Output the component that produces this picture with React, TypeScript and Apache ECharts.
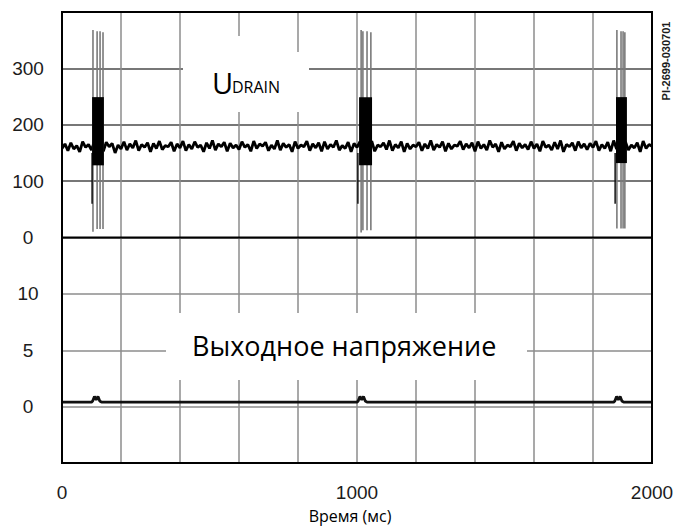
import React, { useEffect, useRef } from "react";
import * as echarts from "echarts";

// Time axis (ms)
const timeTicks = [0, 1000, 2000];

// U_DRAIN trace: samples every 10 ms, volts
const drainTimes: number[] = Array.from({ length: 201 }, (_, i) => i * 10);
const drainValues = [
  158, 166, 154, 168, 157, 163, 152, 170, 160, 165, 155, 171, 158, 164, 153, 169, 161, 167, 150, 164,
  157, 170, 155, 166, 159, 172, 154, 165, 160, 168, 152, 167, 158, 171, 156, 163, 161, 169, 153, 166,
  159, 171, 154, 165, 157, 170, 160, 164, 152, 168, 158, 172, 155, 166, 161, 169, 153, 167, 159, 164,
  156, 170, 160, 165, 153, 171, 158, 166, 162, 169, 154, 164, 157, 172, 155, 167, 160, 165, 152, 170,
  158, 164, 161, 171, 154, 166, 159, 168, 153, 170, 157, 165, 160, 172, 155, 163, 158, 169, 152, 167,
  160, 170, 155, 166, 158, 171, 153, 164, 161, 168, 156, 172, 154, 165, 159, 170, 152, 167, 157, 164,
  161, 169, 154, 166, 158, 172, 155, 165, 160, 170, 153, 167, 157, 164, 162, 171, 156, 166, 159, 168,
  153, 170, 158, 165, 155, 172, 160, 166, 152, 169, 157, 164, 161, 171, 154, 167, 159, 165, 156, 170,
  158, 166, 153, 171, 160, 164, 155, 169, 157, 172, 152, 165, 161, 168, 154, 170, 159, 166, 156, 167,
  160, 171, 154, 165, 158, 169, 153, 172, 157, 166, 161, 170, 155, 164, 159, 168, 152, 171, 158, 165,
  162,
];

// Switching bursts: [start ms, end ms, low V, high V]
const burstBlocks = [
  [102, 142, 128, 249],
  [1007, 1051, 128, 249],
  [1878, 1915, 132, 249],
];

// Ringing spikes inside each burst: [time ms, low V, high V]
const burstSpikes = [
  [105, 10, 368], [119, 15, 366], [129, 15, 366], [139, 15, 364],
  [1014, 9, 368], [1020, 13, 366], [1034, 13, 366], [1047, 13, 364],
  [1881, 16, 368], [1895, 16, 366], [1902, 16, 366], [1908, 16, 364],
];

// Dark undershoot at the start of each burst: [time ms, low V, high V]
const burstDips = [
  [102, 60, 150],
  [1003, 60, 150],
  [1875, 60, 150],
];

// Output voltage trace (V)
const outputTimes = [0, 100, 104, 110, 116, 122, 128, 134, 1000, 1004, 1010, 1016, 1022, 1028, 1034, 1870, 1874, 1880, 1886, 1892, 1898, 1904, 2000];
const outputValues = [0.4, 0.4, 0.5, 0.9, 0.6, 0.9, 0.5, 0.4, 0.4, 0.5, 0.9, 0.6, 0.9, 0.5, 0.4, 0.4, 0.5, 0.9, 0.6, 0.9, 0.5, 0.4, 0.4];

const LEFT = 62;
const TOP = 12;
const WIDTH = 590;
const PANEL_H = 225.5;
const DIGIT_FONT = "Liberation Sans, Arial, sans-serif";
const TEXT_FONT = "Open Sans, Noto Sans, sans-serif";

export default function App() {
  const ref = useRef<HTMLDivElement>(null);

  useEffect(() => {
    if (!ref.current) return;
    const chart = echarts.init(ref.current, undefined, { renderer: "svg" });

    const lineRender = (color: string, width: number) => (params: any, api: any) => {
      const t = api.value(0);
      const a = api.coord([t, api.value(1)]);
      const b = api.coord([t, api.value(2)]);
      return {
        type: "line",
        shape: { x1: a[0], y1: a[1], x2: b[0], y2: b[1] },
        style: { stroke: color, lineWidth: width },
      };
    };

    const valueLabel = {
      fontSize: 19,
      color: "#1c1c1c",
      fontFamily: DIGIT_FONT,
    };

    chart.setOption({
      animation: false,
      backgroundColor: "#ffffff",
      grid: [
        { left: LEFT, top: TOP, width: WIDTH, height: PANEL_H },
        { left: LEFT, top: TOP + PANEL_H, width: WIDTH, height: PANEL_H },
      ],
      xAxis: [
        {
          gridIndex: 0,
          type: "value",
          min: 0,
          max: 2000,
          interval: 200,
          axisLine: { show: false },
          axisTick: { show: false },
          axisLabel: { show: false },
          splitLine: { lineStyle: { color: "#8c8c8c", width: 1.5 } },
        },
        {
          gridIndex: 1,
          type: "value",
          min: 0,
          max: 2000,
          interval: 200,
          axisLine: { show: false },
          axisTick: { show: false },
          axisLabel: {
            ...valueLabel,
            margin: 20,
            formatter: (v: number) => (timeTicks.includes(v) ? String(v) : ""),
          },
          splitLine: { lineStyle: { color: "#8c8c8c", width: 1.5 } },
        },
      ],
      yAxis: [
        {
          gridIndex: 0,
          type: "value",
          min: 0,
          max: 400,
          interval: 100,
          axisLine: { show: false },
          axisTick: { show: false },
          axisLabel: {
            ...valueLabel,
            align: "center",
            margin: 34,
            formatter: (v: number) => (v < 400 ? String(v) : ""),
          },
          splitLine: { lineStyle: { color: "#4a4a4a", width: 1.5 } },
        },
        {
          gridIndex: 1,
          type: "value",
          min: -5,
          max: 15,
          interval: 5,
          axisLine: { show: false },
          axisTick: { show: false },
          axisLabel: {
            ...valueLabel,
            align: "center",
            margin: 34,
            formatter: (v: number) => (v >= 0 && v <= 10 ? String(v) : ""),
          },
          splitLine: { lineStyle: { color: "#8c8c8c", width: 1.5 } },
        },
      ],
      series: [
        {
          type: "line",
          xAxisIndex: 0,
          yAxisIndex: 0,
          data: drainTimes.map((t, i) => [t, drainValues[i]]),
          showSymbol: false,
          lineStyle: { color: "#000", width: 2.8 },
          z: 3,
        },
        {
          type: "custom",
          xAxisIndex: 0,
          yAxisIndex: 0,
          data: burstSpikes,
          renderItem: lineRender("#7a7a7a", 1.6),
          z: 4,
        },
        {
          type: "custom",
          xAxisIndex: 0,
          yAxisIndex: 0,
          data: burstDips,
          renderItem: lineRender("#111", 1.5),
          z: 4,
        },
        {
          type: "custom",
          xAxisIndex: 0,
          yAxisIndex: 0,
          data: burstBlocks,
          renderItem: (params: any, api: any) => {
            const p0 = api.coord([api.value(0), api.value(3)]);
            const p1 = api.coord([api.value(1), api.value(2)]);
            return {
              type: "rect",
              shape: { x: p0[0], y: p0[1], width: p1[0] - p0[0], height: p1[1] - p0[1] },
              style: { fill: "#000" },
            };
          },
          z: 5,
        },
        {
          type: "line",
          xAxisIndex: 1,
          yAxisIndex: 1,
          data: outputTimes.map((t, i) => [t, outputValues[i]]),
          showSymbol: false,
          lineStyle: { color: "#111", width: 2.8 },
          z: 3,
        },
      ],
      graphic: [
        // white label backgrounds cutting the grid
        { type: "rect", z: 1, shape: { x: 183, y: 52, width: 126, height: 60 }, style: { fill: "#fff" } },
        { type: "rect", z: 1, shape: { x: 183, y: 36, width: 105, height: 17 }, style: { fill: "#fff" } },
        { type: "rect", z: 1, shape: { x: 166, y: 313, width: 361, height: 67 }, style: { fill: "#fff" } },
        // frame and panel separator
        {
          type: "rect",
          z: 10,
          shape: { x: LEFT, y: TOP, width: WIDTH, height: PANEL_H * 2 },
          style: { fill: "none", stroke: "#000", lineWidth: 2 },
        },
        {
          type: "line",
          z: 10,
          shape: { x1: LEFT, y1: TOP + PANEL_H, x2: LEFT + WIDTH, y2: TOP + PANEL_H },
          style: { stroke: "#000", lineWidth: 2 },
        },
        // labels
        {
          type: "text",
          z: 11,
          x: 212,
          y: 82,
          style: { text: "U", fontSize: 29, fontFamily: TEXT_FONT, fill: "#000", verticalAlign: "middle" },
        },
        {
          type: "text",
          z: 11,
          x: 232,
          y: 87,
          style: { text: "DRAIN", fontSize: 16, fontFamily: TEXT_FONT, fill: "#000", verticalAlign: "middle" },
        },
        {
          type: "text",
          z: 11,
          x: 192,
          y: 345,
          style: {
            text: "Выходное напряжение",
            fontSize: 27,
            fontFamily: TEXT_FONT,
            fill: "#000",
            verticalAlign: "middle",
          },
        },
        {
          type: "text",
          z: 11,
          x: 350,
          y: 516,
          style: {
            text: "Время (мс)",
            fontSize: 16,
            fontFamily: TEXT_FONT,
            fill: "#000",
            align: "center",
            verticalAlign: "middle",
          },
        },
        {
          type: "text",
          z: 11,
          x: 666,
          y: 61,
          rotation: Math.PI / 2,
          style: {
            text: "PI-2699-030701",
            fontSize: 11,
            fontWeight: "bold",
            fontFamily: DIGIT_FONT,
            fill: "#1c1c1c",
            align: "center",
            verticalAlign: "middle",
          },
        },
      ],
    });

    return () => chart.dispose();
  }, []);

  return (
    <div
      ref={ref}
      style={{ position: "fixed", left: 0, top: 0, width: 678, height: 528 }}
    />
  );
}
